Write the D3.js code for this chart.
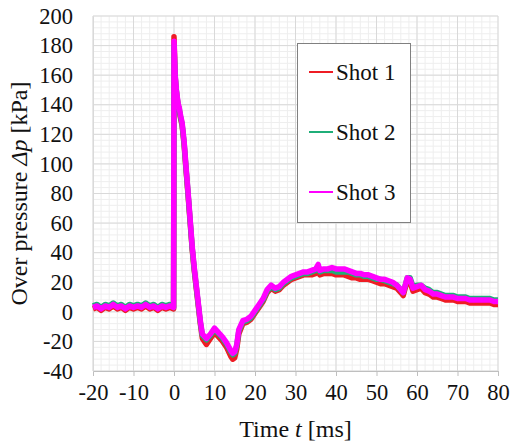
<!DOCTYPE html>
<html>
<head>
<meta charset="utf-8">
<script src="https://cdn.jsdelivr.net/npm/d3@7"></script>
<style>
  html, body { margin: 0; padding: 0; background: #fff; }
  svg { display: block; }
  text { font-family: "Liberation Serif", "Times New Roman", serif; fill: #111; }
</style>
</head>
<body>
<svg id="chart" width="514" height="446"></svg>
<script>
// Sample times [ms]
const times = [
  -20,-19,-18,-17,-16,-15,-14,-13,-12,-11,-10,-9,-8,-7,-6,-5,-4,-3,-2,-1,
  -0.1, 0,
  0.3,0.6,1.0,1.3,1.6,2.0,2.5,3,3.5,4,4.5,5,5.5,6,6.5,7,
  8,9,10,11,12,13,14,
  14.5,15,15.5,
  16,17,18,19,20,21,22,23,24,25,26,27,28,29,30,31,32,33,34,35,
  35.6,
  36,37,38,39,40,41,42,43,44,45,46,47,48,49,50,51,52,53,54,55,56,
  56.6,57,57.6,58.3,
  59,60,61,62,63,64,65,66,67,68,69,70,71,72,73,74,75,76,77,78,79,80
];

// Over pressure [kPa] per shot
const shot1 = [
  2,3,1,3,2,4,2,3,1,3,2,3,2,4,2,3,1,3,2,3,
  2,186,
  158,148,140,136,131,126,113,95,78,60,42,28,16,4,-8,-18,
  -22,-18,-14,-17,-20,-24,-30,
  -32,-31,-25,
  -15,-8,-7,-5,-1,3,7,13,16,14,15,18,20,22,23,24,25,25,25,26,
  29,
  25,26,26,26,25,25,25,24,23,23,22,22,22,21,20,19,19,18,17,16,13,
  11,15,21,20,
  14,15,16,13,12,10,10,9,8,8,8,7,7,7,6,6,6,6,6,6,5,5
];
const shot2 = [
  4,5,3,5,4,6,4,5,3,5,4,5,4,6,4,5,3,5,4,5,
  3,180,
  159,149,140,137,132,127,114,96,79,61,43,29,17,5,-7,-16,
  -19,-16,-12,-15,-18,-22,-27,
  -29,-28,-23,
  -13,-7,-6,-4,0,4,8,14,17,15,16,19,21,23,24,25,26,26,27,28,
  31,
  27,28,28,28,27,27,27,27,26,25,25,24,24,23,22,22,21,20,19,18,15,
  13,17,23,23,
  17,18,18,16,15,13,13,12,11,11,11,10,10,10,9,9,9,9,9,9,8,8
];
const shot3 = [
  3,4,2,4,3,5,3,4,2,4,3,4,3,5,3,4,2,4,3,4,
  3,183,
  160,150,141,138,133,128,115,97,80,62,44,30,18,6,-6,-15,
  -18,-15,-11,-14,-17,-21,-26,
  -28,-27,-22,
  -12,-6,-5,-3,1,5,9,15,18,16,17,20,22,24,25,26,27,27,28,29,
  32,
  28,29,29,30,29,29,29,28,27,26,26,25,25,24,23,22,22,21,20,18,15,
  13,17,23,22,
  16,17,18,15,14,12,12,11,10,10,10,9,9,9,8,8,8,8,8,8,7,7
];

const seriesNames = ["Shot 1", "Shot 2", "Shot 3"];
const seriesValues = [shot1, shot2, shot3];
const seriesColors = ["#ee1c24", "#1fae78", "#ff00ff"];

const xTicks = [-20,-10,0,10,20,30,40,50,60,70,80];
const yTicks = [-40,-20,0,20,40,60,80,100,120,140,160,180,200];

const svg = d3.select("#chart");
const W = 514, H = 446;
const margin = { left: 93, right: 16, top: 16, bottom: 75 };
const iw = W - margin.left - margin.right;
const ih = H - margin.top - margin.bottom;

const x = d3.scaleLinear().domain([-20, 80]).range([margin.left, margin.left + iw]);
const y = d3.scaleLinear().domain([-40, 200]).range([margin.top + ih, margin.top]);

// Minor grid
const g = svg.append("g");
g.selectAll(".vminor").data(d3.range(-20, 80.01, 2)).join("line")
  .attr("x1", d => x(d)).attr("x2", d => x(d))
  .attr("y1", y(-40)).attr("y2", y(200))
  .attr("stroke", "#eeeeee").attr("stroke-width", 1);
g.selectAll(".hminor").data(d3.range(-40, 200.01, 4)).join("line")
  .attr("x1", x(-20)).attr("x2", x(80))
  .attr("y1", d => y(d)).attr("y2", d => y(d))
  .attr("stroke", "#eeeeee").attr("stroke-width", 1);
// Major grid
g.selectAll(".vmajor").data(xTicks).join("line")
  .attr("x1", d => x(d)).attr("x2", d => x(d))
  .attr("y1", y(-40)).attr("y2", y(200))
  .attr("stroke", "#d9d9d9").attr("stroke-width", 1);
g.selectAll(".hmajor").data(yTicks).join("line")
  .attr("x1", x(-20)).attr("x2", x(80))
  .attr("y1", d => y(d)).attr("y2", d => y(d))
  .attr("stroke", "#d9d9d9").attr("stroke-width", 1);

// Axes (plain hyphen for negative labels)
const fmt = d => String(d);
const xAxis = svg.append("g")
  .attr("transform", `translate(0,${y(-40)})`)
  .call(d3.axisBottom(x).tickValues(xTicks).tickSize(5).tickPadding(8).tickFormat(fmt));
xAxis.select(".domain").attr("stroke", "#bfbfbf");
xAxis.selectAll(".tick line").attr("stroke", "#bfbfbf");
xAxis.selectAll("text").style("font-size", "22.5px").attr("fill", "#111");

const yAxis = svg.append("g")
  .attr("transform", `translate(${x(-20)},0)`)
  .call(d3.axisLeft(y).tickValues(yTicks).tickSize(0).tickPadding(20).tickFormat(fmt));
yAxis.select(".domain").attr("stroke", "#d9d9d9");
yAxis.selectAll("text").style("font-size", "22.5px").attr("fill", "#111");

// Pressure traces
const line = d3.line()
  .x((d, i) => x(times[i]))
  .y(d => y(d));

svg.append("g").selectAll("path").data(seriesValues).join("path")
  .attr("d", d => line(d))
  .attr("fill", "none")
  .attr("stroke", (d, i) => seriesColors[i])
  .attr("stroke-width", 5.5)
  .attr("stroke-linejoin", "round");

// Axis titles
const xt = svg.append("text")
  .attr("x", (x(-20) + x(80)) / 2).attr("y", 437)
  .attr("text-anchor", "middle").style("font-size", "24px");
xt.append("tspan").text("Time ");
xt.append("tspan").style("font-style", "italic").text("t");
xt.append("tspan").text(" [ms]");

const yt = svg.append("text")
  .attr("transform", `translate(27,${(y(-40) + y(200)) / 2}) rotate(-90)`)
  .attr("text-anchor", "middle").style("font-size", "24px");
yt.append("tspan").text("Over pressure ");
yt.append("tspan").style("font-style", "italic").text("Δp");
yt.append("tspan").text(" [kPa]");

// Legend
const lg = svg.append("g");
lg.append("rect")
  .attr("x", 297.5).attr("y", 43.5).attr("width", 113).attr("height", 179)
  .attr("fill", "#fff").attr("stroke", "#808080").attr("stroke-width", 1);
const rows = lg.selectAll(".row").data(seriesNames).join("g")
  .attr("transform", (d, i) => `translate(0,${72 + i * 60})`);
rows.append("line")
  .attr("x1", 309).attr("x2", 333).attr("y1", 0).attr("y2", 0)
  .attr("stroke", (d, i) => seriesColors[i]).attr("stroke-width", 2);
rows.append("text")
  .attr("x", 336).attr("y", 8)
  .style("font-size", "23px").text(d => d);
</script>
</body>
</html>
